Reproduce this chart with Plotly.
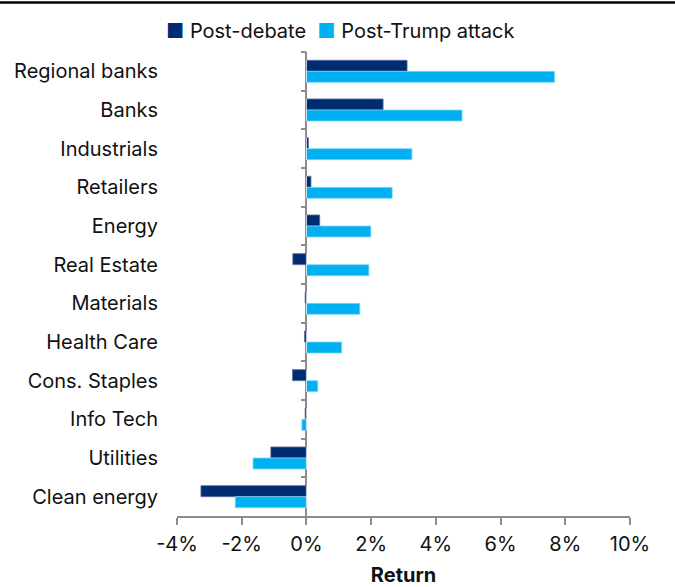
import plotly.graph_objects as go

# Sector returns (%) after each event
sectors = ["Regional banks", "Banks", "Industrials", "Retailers", "Energy", "Real Estate",
           "Materials", "Health Care", "Cons. Staples", "Info Tech", "Utilities", "Clean energy"]
post_debate = [3.11, 2.37, 0.06, 0.14, 0.41, -0.42, -0.04, -0.06, -0.43, -0.04, -1.10, -3.26]
post_trump_attack = [7.67, 4.81, 3.26, 2.65, 1.99, 1.93, 1.65, 1.09, 0.35, -0.14, -1.65, -2.20]
x_ticks = [-4, -2, 0, 2, 4, 6, 8, 10]

NAVY = "#002D72"
CYAN = "#00B0F0"
GRAY = "#8C8C8C"
FONT = "Inter"

fig = go.Figure()
fig.add_trace(go.Bar(
    y=sectors, x=post_debate, orientation="h", name="Post-debate",
    marker=dict(color=NAVY, line=dict(color="#5a6f99", width=0.8)),
))
fig.add_trace(go.Bar(
    y=sectors, x=post_trump_attack, orientation="h", name="Post-Trump attack",
    marker=dict(color=CYAN, line=dict(color="#7fd6f7", width=0.8)),
))
# invisible trace carrying the category tick marks on the zero line
fig.add_trace(go.Bar(
    y=sectors, x=[0] * len(sectors), orientation="h", yaxis="y2",
    showlegend=False, hoverinfo="skip", marker=dict(color="rgba(0,0,0,0)"),
))

# legend drawn as a single line of text with coloured square glyphs
legend_text = (
    f"<span style='color:{NAVY}'>■</span> Post-debate  "
    f"<span style='color:{CYAN}'>■</span> Post-Trump attack"
)

fig.update_layout(
    width=675, height=587,
    margin=dict(l=177, r=45, t=52, b=71, autoexpand=False),
    paper_bgcolor="white", plot_bgcolor="white",
    font=dict(family=FONT, size=20, color="#111111"),
    barmode="group", bargap=0.43, bargroupgap=0.0,
    showlegend=False,
    xaxis=dict(
        range=[-4, 10], tickvals=x_ticks,
        ticktext=[f"{v}%" for v in x_ticks],
        showgrid=False, zeroline=True, zerolinecolor=GRAY, zerolinewidth=2,
        showline=True, linecolor=GRAY, linewidth=2,
        ticks="outside", ticklen=7, tickwidth=2, tickcolor=GRAY,
        ticklabelstandoff=2,
        tickfont=dict(family=FONT, size=20),
        title=dict(text="<b>Return</b>", font=dict(family=FONT, size=20), standoff=14),
    ),
    yaxis=dict(
        autorange="reversed", showgrid=False, zeroline=False, showline=False,
        ticks="", ticklabelstandoff=18, tickfont=dict(family=FONT, size=20),
    ),
    yaxis2=dict(
        overlaying="y", matches="y", anchor="free", position=4 / 14, side="left",
        showgrid=False, zeroline=False, showline=False, showticklabels=False,
        ticks="outside", tickson="boundaries", ticklen=5, tickwidth=2, tickcolor=GRAY,
    ),
    annotations=[dict(
        text=legend_text, xref="paper", yref="paper",
        x=(340 - 177) / 453, y=(516 - 31) / 464, xanchor="center", yanchor="middle",
        showarrow=False, font=dict(family=FONT, size=20, color="#111111"),
    )],
    shapes=[dict(
        type="line", xref="paper", yref="paper",
        x0=-0.4, x1=1.12, y0=(516 - 2.5) / 464, y1=(516 - 2.5) / 464,
        line=dict(color="black", width=2.5),
    )],
)

fig.write_html("out.html")
